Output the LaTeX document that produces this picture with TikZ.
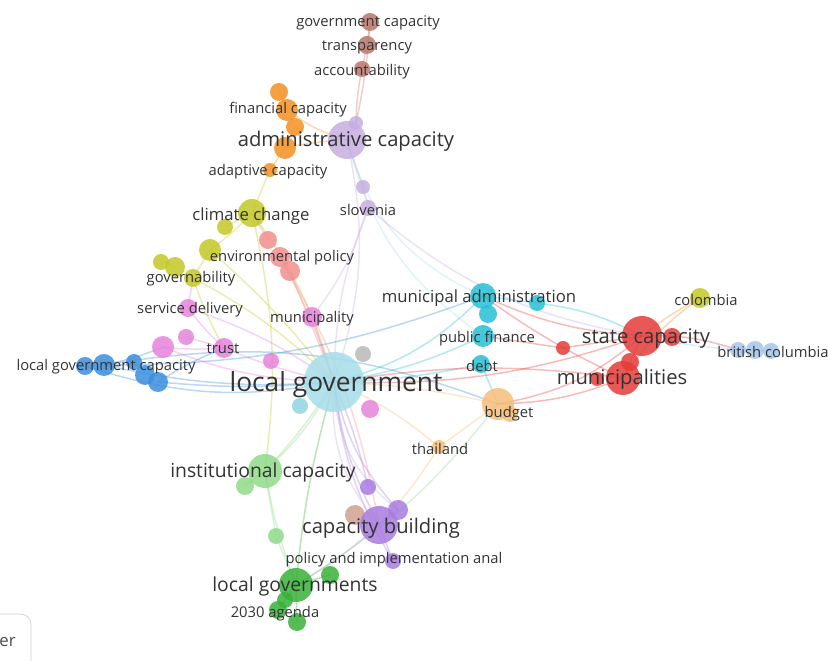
\documentclass[tikz,border=0pt]{standalone}
\usepackage{fontspec}
\setmainfont{Open Sans}
\usetikzlibrary{backgrounds}

\definecolor{cLg}{HTML}{A5DDE9}
\definecolor{cCyan}{HTML}{26BFD3}
\definecolor{cRed}{HTML}{E43B38}
\definecolor{cPeach}{HTML}{F5BE7A}
\definecolor{cGreenL}{HTML}{8FDA8A}
\definecolor{cGreenD}{HTML}{38B038}
\definecolor{cPurple}{HTML}{A77BE0}
\definecolor{cLav}{HTML}{C6AEE0}
\definecolor{cBrown}{HTML}{B9766B}
\definecolor{cBrownL}{HTML}{D0A090}
\definecolor{cOrange}{HTML}{F39122}
\definecolor{cYel}{HTML}{C3C827}
\definecolor{cSalmon}{HTML}{F28E8E}
\definecolor{cPink}{HTML}{E582DB}
\definecolor{cBlue}{HTML}{3A8EDB}
\definecolor{cBlueL}{HTML}{A6C4EA}
\definecolor{cGray}{HTML}{B8B8B8}
\definecolor{cTeal}{HTML}{8ED3E0}

\begin{document}
\begin{tikzpicture}[
    x=0.02cm, y=-0.02cm,
    bub/.style={circle, inner sep=0pt, draw=none, fill=#1, fill opacity=0.85},
    edge/.style={draw=#1, line width=0.85pt, draw opacity=0.35},
    kw/.style={text=black!80, inner sep=0pt, yshift=-1pt},
    kwS/.style={kw, font=\fontsize{8.4}{10}\selectfont},
    kwM/.style={kw, font=\fontsize{9.5}{11}\selectfont},
    kwL/.style={kw, font=\fontsize{11.5}{13}\selectfont},
    kwLs/.style={kw, font=\fontsize{11}{13}\selectfont},
    kwXL/.style={kw, font=\fontsize{15}{17}\selectfont},
]
\useasboundingbox (0,0) rectangle (828,661);

% --- Bubbles (name/x/y/radius/colour) ---
\foreach \n/\x/\y/\r/\c in {
    gcap/370/22/9/cBrown, transp/367/45/9/cBrown, accnt/362/69/8/cBrown,
    or1/279/92/9/cOrange, fincap/287/110/11/cOrange, or2/295/127/9/cOrange,
    or3/285/148/11/cOrange, adapt/270/170/7/cOrange,
    admcap/347/140/19/cLav, lv1/356/123/7/cLav, lv2/363/187/7/cLav, slov/368/208/8/cLav,
    clim/252/213/14/cYel, y1/225/227/8/cYel, y2/210/250/11/cYel,
    y3/161/262/8/cYel, y4/175/267/10/cYel, govern/193/278/9/cYel,
    colomb/700/298/10/cYel,
    s1/268/240/9/cSalmon, envpol/280/257/10/cSalmon, s2/290/271/10/cSalmon,
    servd/188/308/9/cPink, p1/186/337/8/cPink, p2/163/347/11/cPink,
    trust/224/348/10/cPink, munic/312/317/10/cPink, p3/271/361/8/cPink,
    b1/85/366/9/cBlue, lgcap/104/365/11/cBlue, b2/134/362/8/cBlue,
    b3/145/375/10/cBlue, b4/158/382/10/cBlue,
    bc1/738/350/8/cBlueL, bc2/755/350/9/cBlueL, bccol/771/351/8/cBlueL,
    lg/334/382/30/cLg, t1/300/406/8/cTeal, gr/363/354/8/cGray, p4/370/409/9/cPink,
    munadm/483/296/13/cCyan, c1/488/314/9/cCyan, c2/537/303/8/cCyan,
    pubfin/483/336/11/cCyan, debt/481/364/9/cCyan,
    statecap/642/336/20/cRed, r1/672/337/9/cRed, r2/563/348/7/cRed,
    munis/623/378/17/cRed, r3/630/362/9/cRed, r4/597/379/7/cRed,
    budget/498/404/16/cPeach, pe1/510/414/8/cPeach, thai/439/447/7/cPeach,
    instcap/265/471/17/cGreenL, gl1/245/486/9/cGreenL, gl2/276/536/8/cGreenL,
    locgovs/296/585/17/cGreenD, gd1/330/575/9/cGreenD, agenda/285/600/8/cGreenD,
    gd2/278/610/9/cGreenD, gd3/297/622/9/cGreenD,
    pu1/368/487/8/cPurple, bb1/355/515/10/cBrownL, capbld/379/525/19/cPurple,
    pu2/398/510/10/cPurple, polimp/393/561/8/cPurple} {
    \node[bub=\c, minimum size=2*\r*0.02cm] (\n) at (\x,\y) {};
}

% --- Links, behind the bubbles ---
\begin{pgfonlayer}{background}
\foreach \a/\b/\c/\bd in {
    lg/admcap/cLav/-15, lg/slov/cLav/10, lg/clim/cYel/-10, lg/y2/cYel/-5,
    lg/govern/cYel/-8, lg/envpol/cSalmon/-5, lg/s2/cSalmon/0,
    lg/servd/cPink/-8, lg/trust/cPink/5, lg/munic/cPink/0, lg/p2/cPink/10,
    lg/lgcap/cBlue/8, lg/b4/cBlue/5, lg/b1/cBlue/14, lg/munadm/cCyan/-15, lg/pubfin/cCyan/-8,
    lg/debt/cCyan/-5, lg/budget/cPeach/5, lg/munis/cRed/8, lg/statecap/cRed/-10,
    lg/thai/cPeach/8, lg/instcap/cGreenL/5, lg/locgovs/cGreenD/-5, lg/gl1/cGreenL/12,
    lg/capbld/cPurple/-10, lg/pu2/cPurple/-15, lg/polimp/cPurple/-12, lg/pu1/cPurple/5,
    lg/capbld/cLav/-22, lg/pu2/cLav/-25,
    admcap/lv1/cLav/0, lv1/accnt/cBrown/5, accnt/transp/cBrown/0, transp/gcap/cBrown/0,
    lv1/gcap/cBrown/-4,
    admcap/fincap/cOrange/10, admcap/or3/cOrange/-5, admcap/munadm/cLg/-25,
    admcap/pubfin/cLg/-20,
    admcap/lv2/cLav/0, lv2/slov/cLav/0, slov/statecap/cLav/-15, slov/munic/cLav/10,
    fincap/or1/cOrange/0, or2/or3/cOrange/0, or3/adapt/cOrange/0,
    adapt/clim/cYel/0, clim/y1/cYel/0, clim/y2/cYel/5, y2/govern/cYel/0,
    y3/y4/cYel/0, clim/s1/cSalmon/0, govern/trust/cYel/-5,
    servd/govern/cPink/0, servd/trust/cPink/-5, p1/trust/cPink/0, p2/trust/cPink/-5,
    p2/lgcap/cBlue/5, b4/trust/cBlue/5, lgcap/budget/cBlue/15, lgcap/munadm/cBlue/-10,
    munadm/statecap/cRed/-10, munadm/c2/cCyan/0, c2/statecap/cCyan/10,
    munadm/munis/cRed/-5, pubfin/r2/cRed/0, r2/statecap/cRed/0,
    debt/budget/cCyan/0, budget/munis/cRed/-10, budget/statecap/cRed/-15,
    statecap/colomb/cOrange/5, statecap/bccol/cBlueL/-5, statecap/bc1/cRed/10,
    statecap/munis/cRed/0, munis/colomb/cOrange/10,
    thai/budget/cPeach/0, thai/capbld/cPeach/5,
    instcap/gl2/cGreenL/0, gl2/locgovs/cGreenL/0, instcap/locgovs/cGreenL/-5,
    capbld/locgovs/cPurple/5, capbld/pu2/cPurple/0, capbld/polimp/cPurple/0,
    locgovs/gd1/cGreenD/0, locgovs/gd2/cGreenD/0, locgovs/gd3/cGreenD/0,
    locgovs/budget/cGreenL/-10, clim/instcap/cYel/10, envpol/capbld/cSalmon/10} {
    \draw[edge=\c] (\a.center) to[bend left=\bd] (\b.center);
}
\end{pgfonlayer}

% --- Keyword labels ---
\node[kwS] (lGcap) at (368,21) {government capacity};
\node[kwS] (lTransp) at (367,46) {transparency};
\node[kwS] (lAccnt) at (362,70) {accountability};
\node[kwS] (lFincap) at (288,108) {financial capacity};
\node[kwL] (lAdmcap) at (346,140) {administrative capacity};
\node[kwS] (lAdapt) at (268,170) {adaptive capacity};
\node[kwM] (lClim) at (251,214) {climate change};
\node[kwS] (lSlov) at (368,208) {slovenia};
\node[kwS] (lEnvpol) at (282,256) {environmental policy};
\node[kwS] (lGovern) at (191,277) {governability};
\node[kwS] (lServd) at (190,308) {service delivery};
\node[kwS] (lMunic) at (312,317) {municipality};
\node[kwS] (lTrust) at (223,347) {trust};
\node[kwS] (lLgcap) at (106,365) {local government capacity};
\node[kwXL] (lLg) at (336,383) {local government};
\node[kwM] (lMunadm) at (479,296) {municipal administration};
\node[kwS] (lPubfin) at (487,337) {public finance};
\node[kwS] (lDebt) at (482,364) {debt};
\node[kwS] (lColomb) at (706,298) {colombia};
\node[kwL] (lStatecap) at (646,337) {state capacity};
\node[kwS] (lBccol) at (773,350) {british columbia};
\node[kwL] (lMunis) at (622,377) {municipalities};
\node[kwS] (lBudget) at (509,412) {budget};
\node[kwS] (lThai) at (440,447) {thailand};
\node[kwLs] (lInstcap) at (263,471) {institutional capacity};
\node[kwL] (lCapbld) at (381,526) {capacity building};
\node[kwS] (lPolimp) at (394,558) {policy and implementation anal};
\node[kwLs] (lLocgovs) at (295,585) {local governments};
\node[kwS] (lAgenda) at (275,612) {2030 agenda};

% --- Clipped button, lower left corner ---
\draw[black!18, fill=white, rounded corners=6pt] (-30,614) rectangle (31,690);
\node[kw, font=\fontsize{9.5}{11}\selectfont, text=black!70, anchor=east] (btn) at (16,640) {er};

\end{tikzpicture}
\end{document}
